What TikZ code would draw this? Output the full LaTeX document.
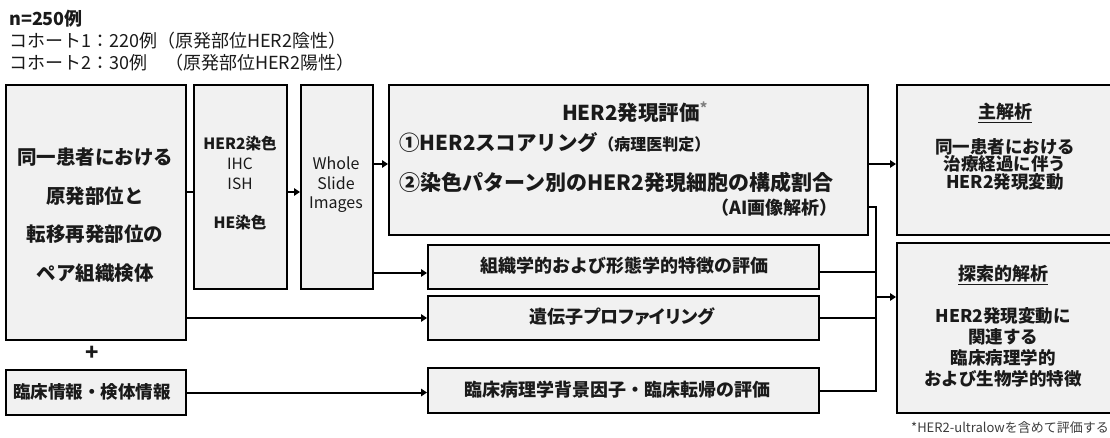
\documentclass[tikz,border=0pt]{standalone}
\usepackage{fontspec}
\setmainfont{Noto Sans CJK JP}
\usetikzlibrary{arrows.meta}
\definecolor{boxfill}{HTML}{F1F1F1}
\definecolor{txt}{HTML}{1A1A1A}
\newcommand\setfs[2]{\fontsize{#1}{#2}\selectfont}
\tikzset{
  box/.style={draw=black, line width=2pt, fill=boxfill, inner sep=0pt, anchor=north west},
  lbl/.style={text=txt, inner sep=0pt, align=center},
  plain/.style={draw=black, line width=2pt},
  arr/.style={draw=black, line width=2pt, -{Triangle[length=6pt,width=7.5pt]}},
}
\begin{document}
\begin{tikzpicture}[x=1pt,y=-1pt]
\useasboundingbox (0,0) rectangle (1110,437);
% header
\node[lbl, anchor=west, font={\setfs{18}{20}\bfseries}] (hn) at (9,19) {n=250例};
\node[lbl, anchor=west, font={\setfs{18}{20}}] (h1) at (9,41) {コホート1：220例（原発部位HER2陰性）};
\node[lbl, anchor=west, font={\setfs{18}{20}}] (h2) at (9,63) {コホート2：30例　（原発部位HER2陽性）};
% boxes
\node[box, minimum width=180pt, minimum height=255pt] (A) at (5,84) {};
\node[box, minimum width=93pt, minimum height=204pt] (B) at (193,84) {};
\node[box, minimum width=72pt, minimum height=204pt] (C) at (300,84) {};
\node[box, minimum width=479pt, minimum height=150pt] (D) at (388,84) {};
\node[box, minimum width=218pt, minimum height=150pt] (E) at (896,84) {};
\node[box, minimum width=218pt, minimum height=170pt] (F) at (896,242) {};
\node[box, minimum width=391pt, minimum height=44pt] (G) at (427,244) {};
\node[box, minimum width=391pt, minimum height=44pt] (H) at (427,295) {};
\node[box, minimum width=391pt, minimum height=45pt] (I) at (427,367) {};
\node[box, minimum width=180pt, minimum height=45pt] (J) at (5,369) {};
% texts
\node[lbl, font={\setfs{19.5}{38.5}\bfseries}] (At) at (95,215) {同一患者における\\原発部位と\\転移再発部位の\\ペア組織検体};
\node[lbl, font={\setfs{15.5}{20.3}}] (Bt) at (240,183) {{\bfseries HER2染色}\\IHC\\ISH\\[18.5pt]{\bfseries HE染色}};
\node[lbl, font={\setfs{16}{19.5}}] (Ct) at (336,185) {Whole\\Slide\\Images};
\node[lbl, font={\setfs{20.5}{22}\bfseries}] (Dt) at (635,112) {HER2発現評価\textsuperscript{\color{gray}*}};
\node[lbl, anchor=west, font={\setfs{20.5}{22}\bfseries}] (D1) at (399,143) {①HER2スコアリング{\setfs{16}{20}（病理医判定）}};
\node[lbl, anchor=west, font={\setfs{21}{22}\bfseries}] (D2) at (399,182) {②染色パターン別のHER2発現細胞の構成割合};
\node[lbl, anchor=east, font={\setfs{18}{20}\bfseries}] (D3) at (838,208) {（AI画像解析）};
\node[lbl, font={\setfs{18}{20}\bfseries}] (Et) at (1005,113) {\underline{主解析}};
\node[lbl, font={\setfs{17.5}{17.5}\bfseries}] (Eb) at (1005,164) {同一患者における\\治療経過に伴う\\HER2発現変動};
\node[lbl, font={\setfs{18}{20}\bfseries}] (Ft) at (1003,275) {\underline{探索的解析}};
\node[lbl, font={\setfs{17.5}{21}\bfseries}] (Fb) at (1003,347.5) {HER2発現変動に\\関連する\\臨床病理学的\\および生物学的特徴};
\node[lbl, font={\setfs{18}{20}\bfseries}] (Gt) at (624,266) {組織学的および形態学的特徴の評価};
\node[lbl, font={\setfs{18}{20}\bfseries\addfontfeature{RawFeature=+palt}}] (Ht) at (622,317) {遺伝子プロファイリング};
\node[lbl, font={\setfs{18}{20}\bfseries}] (It) at (617,390) {臨床病理学背景因子・臨床転帰の評価};
\node[lbl, font={\setfs{17.5}{20}\bfseries}] (Jt) at (92,391.5) {臨床情報・検体情報};
\node[lbl, font={\setfs{22}{22}\bfseries}] (plus) at (92,353) {+};
\node[lbl, anchor=east, font={\setfs{13}{14}}, text=txt!85] (fn) at (1109,428) {*HER2-ultralowを含めて評価する};
% helper coordinates
\coordinate (r164) at (0,164);
\coordinate (r192) at (0,192);
\coordinate (r207) at (0,207);
\coordinate (r272) at (0,272);
\coordinate (r273) at (0,273);
\coordinate (bus) at (876,297);
% connectors
\draw[plain] (A.east |- r192) -- (B.west |- r192);
\draw[arr] (B.east |- r192) -- (C.west |- r192);
\draw[arr] (C.east |- r164) -- (D.west |- r164);
\draw[arr] (C.east |- r273) -- (G.west |- r273);
\draw[arr] (A.east |- H.west) -- (H.west);
\draw[arr] (J.east) -- (J.east -| I.west);
\draw[arr] (D.east |- r164) -- (E.west |- r164);
\draw[plain] (D.east |- r207) -- (bus |- r207) -- (bus |- I.east) -- (I.east);
\draw[plain] (G.east |- r272) -- (bus |- r272);
\draw[plain] (H.east) -- (H.east -| bus);
\draw[arr] (bus) -- (bus -| F.west);
\end{tikzpicture}
\end{document}
